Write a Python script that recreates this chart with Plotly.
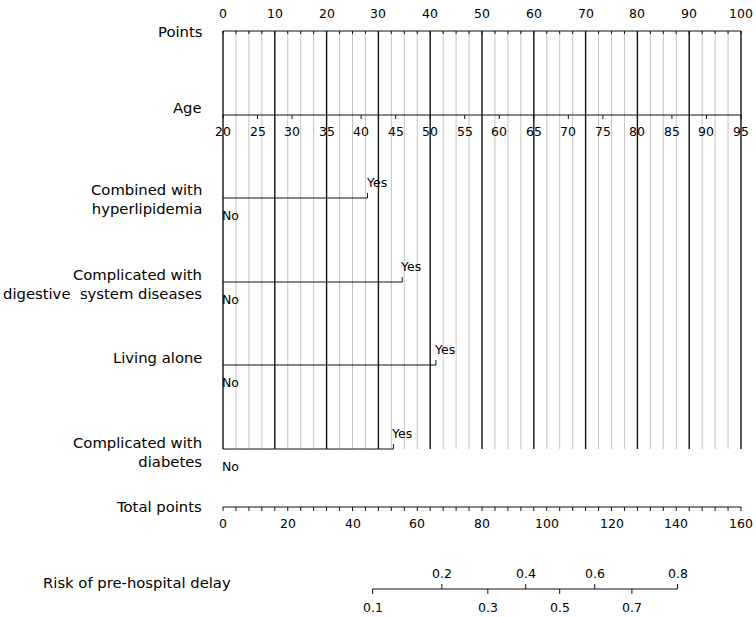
import numpy as np
import plotly.graph_objects as go

# ---------------- data ----------------
points_labels = [0, 10, 20, 30, 40, 50, 60, 70, 80, 90, 100]
points_minor_step = 2.5

age_labels = [20, 25, 30, 35, 40, 45, 50, 55, 60, 65, 70, 75, 80, 85, 90, 95]
age_min, age_max = 20, 95          # age range mapped onto 0..100 points

binary_names = ["Combined with<br>hyperlipidemia",
                "Complicated with<br>digestive  system diseases",
                "Living alone",
                "Complicated with<br>diabetes"]
binary_levels = ["No", "Yes"]
binary_yes_points = [27.9, 34.6, 41.1, 32.9]

total_labels = [0, 20, 40, 60, 80, 100, 120, 140, 160]
total_minor_step = 4
total_max = 160

risk_labels = [0.1, 0.2, 0.3, 0.4, 0.5, 0.6, 0.7, 0.8]
risk_total_points = [46.2, 67.6, 81.8, 93.5, 104.0, 114.8, 126.3, 140.4]

# ---------------- layout constants ----------------
W, H = 756, 617
X0_PX, X100_PX = 223, 741
PPU = (X100_PX - X0_PX) / 100.0


def px(xp):
    return (xp - X0_PX) / PPU


POINTS_Y = 31
AGE_Y = 115
BIN_Y = [198, 282, 365, 449]
TOTAL_Y = 507
RISK_Y = 589
FONT = "DejaVu Sans"
TXT = "#000000"

fig = go.Figure()
ann = []


def seglines(segs, color, width):
    xs, ys = [], []
    for (xa, ya, xb, yb) in segs:
        xs += [xa, xb, None]
        ys += [ya, yb, None]
    fig.add_trace(go.Scatter(x=xs, y=ys, mode="lines",
                             line=dict(color=color, width=width),
                             hoverinfo="skip", showlegend=False))


# vertical grid
minor = np.arange(0, 100 + 1e-9, points_minor_step)
gray = [(v, POINTS_Y, v, BIN_Y[-1]) for v in minor if v not in points_labels]
black = [(v, POINTS_Y, v, BIN_Y[-1]) for v in points_labels]
seglines(gray, "#c4c4c4", 1)
seglines(black, "#111111", 1.4)

# points axis
segs = [(0, POINTS_Y, 100, POINTS_Y)]
segs += [(v, POINTS_Y, v, POINTS_Y + 3) for v in minor]
seglines(segs, "#111111", 1)
for v in points_labels:
    ann.append(dict(x=v, y=POINTS_Y - 18, text=str(v), xanchor="center", yanchor="middle",
                    font=dict(size=12.5)))

# age axis
def age_to_pts(a):
    return (a - age_min) / (age_max - age_min) * 100.0

segs = [(0, AGE_Y, 100, AGE_Y)]
segs += [(age_to_pts(a), AGE_Y, age_to_pts(a), AGE_Y + 4) for a in age_labels]
seglines(segs, "#111111", 1)
for a in age_labels:
    ann.append(dict(x=age_to_pts(a), y=AGE_Y + 16, text=str(a), xanchor="center",
                    yanchor="middle", font=dict(size=12.5)))

# binary variables
segs = []
for yv, yp in zip(BIN_Y, binary_yes_points):
    segs.append((0, yv, yp, yv))
    segs.append((yp, yv, yp, yv - 5))
    ann.append(dict(x=yp, y=yv - 16, text=binary_levels[1], xanchor="left", xshift=-4,
                    yanchor="middle", font=dict(size=12.5)))
    ann.append(dict(x=0, y=yv + 17, text=binary_levels[0], xanchor="left", xshift=-3,
                    yanchor="middle", font=dict(size=12.5)))
seglines(segs, "#111111", 1)

# total points axis
def tp(v):
    return v / total_max * 100.0

tminor = np.arange(0, total_max + 1e-9, total_minor_step)
segs = [(0, TOTAL_Y, 100, TOTAL_Y)]
segs += [(tp(v), TOTAL_Y, tp(v), TOTAL_Y + 4) for v in tminor]
seglines(segs, "#111111", 1)
for v in total_labels:
    ann.append(dict(x=tp(v), y=TOTAL_Y + 16, text=str(v), xanchor="center",
                    yanchor="middle", font=dict(size=12.5)))

# risk axis
segs = [(tp(risk_total_points[0]), RISK_Y, tp(risk_total_points[-1]), RISK_Y)]
for i, (r, t) in enumerate(zip(risk_labels, risk_total_points)):
    up = (i % 2 == 1)
    segs.append((tp(t), RISK_Y, tp(t), RISK_Y - 5 if up else RISK_Y + 5))
    ann.append(dict(x=tp(t), y=RISK_Y - 16 if up else RISK_Y + 18, text=f"{r:.1f}",
                    xanchor="center", yanchor="middle", font=dict(size=12.5)))
seglines(segs, "#111111", 1)

# left-hand labels
left = [("Points", 31), ("Age", 107)]
left += list(zip(binary_names, [199, 284, 357, 452]))
left += [("Total points", 506)]
for t, yv in left:
    ann.append(dict(x=px(204), y=yv, text=t, xanchor="right", yanchor="middle",
                    align="right", font=dict(size=14.8)))
ann.append(dict(x=px(233), y=582, text="Risk of pre-hospital delay", xanchor="right",
                yanchor="middle", align="right", font=dict(size=14.8)))

for a in ann:
    a.update(xref="x", yref="y", showarrow=False)
    a["font"].update(family=FONT, color=TXT)

fig.update_layout(
    width=W, height=H, margin=dict(l=0, r=0, t=0, b=0),
    paper_bgcolor="white", plot_bgcolor="white",
    xaxis=dict(range=[px(0), px(W)], visible=False, fixedrange=True),
    yaxis=dict(range=[H, 0], visible=False, fixedrange=True),
    annotations=ann, showlegend=False,
)

fig.write_html("out.html", config={"displayModeBar": False},
               post_script="document.body.style.margin='0';document.body.style.overflow='hidden';")
